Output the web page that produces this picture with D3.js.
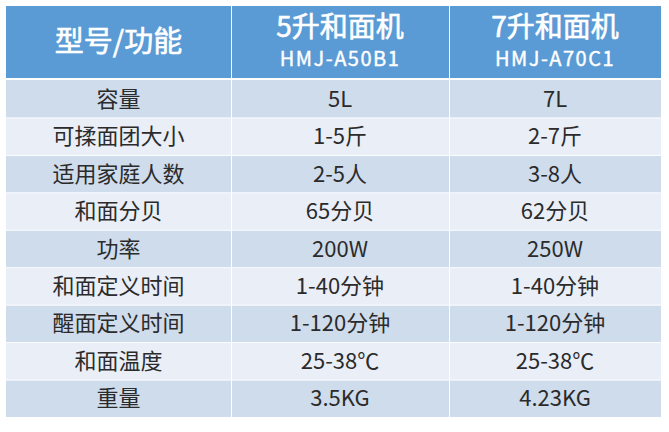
<!DOCTYPE html>
<html>
<head>
<meta charset="utf-8">
<script src="https://cdnjs.cloudflare.com/ajax/libs/d3/7.8.5/d3.min.js"></script>
<style>
  html, body { margin: 0; padding: 0; background: #fff; }
  svg { display: block; }
  text { font-family: "Noto Sans CJK SC", "Noto Sans", sans-serif; }
  .head { fill: #fff; stroke: #fff; stroke-width: 0.6px; }
</style>
</head>
<body>
<svg id="chart" width="669" height="432"></svg>
<script>
// header
var headTitle = "型号/功能";
var models = ["5升和面机", "7升和面机"];
var modelCodes = ["HMJ-A50B1", "HMJ-A70C1"];

// rows
var features = ["容量", "可揉面团大小", "适用家庭人数", "和面分贝", "功率",
                "和面定义时间", "醒面定义时间", "和面温度", "重量"];
var values5 = ["5L", "1-5斤", "2-5人", "65分贝", "200W",
               "1-40分钟", "1-120分钟", "25-38℃", "3.5KG"];
var values7 = ["7L", "2-7斤", "3-8人", "62分贝", "250W",
               "1-40分钟", "1-120分钟", "25-38℃", "4.23KG"];

var svg = d3.select("#chart");

var colEdges = [6, 231, 449, 661];
var headTop = 6, headBottom = 78, bodyTop = 80, bodyBottom = 417;

var y = d3.scaleBand()
    .domain(features)
    .range([bodyTop, bodyBottom])
    .paddingInner(0);

var columns = [features, values5, values7];

// header cells
for (var c = 0; c < 3; c++) {
    svg.append("rect")
        .attr("x", colEdges[c] + (c ? 1 : 0))
        .attr("y", headTop)
        .attr("width", colEdges[c + 1] - colEdges[c] - (c ? 1 : 0))
        .attr("height", headBottom - headTop)
        .attr("fill", "#5b9bd5");
}

var hcx = function(c) { return (colEdges[c] + colEdges[c + 1]) / 2; };

svg.append("text")
    .attr("class", "head")
    .attr("x", hcx(0)).attr("y", 52)
    .attr("text-anchor", "middle")
    .attr("font-size", 29)
    .text(headTitle);

models.forEach(function(m, i) {
    svg.append("text")
        .attr("class", "head")
        .attr("x", hcx(i + 1)).attr("y", 37)
        .attr("text-anchor", "middle")
        .attr("font-size", 28)
        .text(m);
    svg.append("text")
        .attr("class", "head")
        .attr("x", hcx(i + 1)).attr("y", 66)
        .attr("text-anchor", "middle")
        .attr("font-size", 20)
        .attr("letter-spacing", 1.5)
        .style("stroke-width", "0.4px")
        .text(modelCodes[i]);
});

// body cells
columns.forEach(function(col, c) {
    var g = svg.append("g");
    g.selectAll("rect")
        .data(features)
        .join("rect")
        .attr("x", colEdges[c] + (c ? 1 : 0))
        .attr("y", function(d, i) { return y(d) + (i ? 1 : 0); })
        .attr("width", colEdges[c + 1] - colEdges[c] - (c ? 1 : 0))
        .attr("height", function(d, i) { return y.bandwidth() - (i ? 1 : 0); })
        .attr("fill", function(d, i) { return i % 2 ? "#e9eef7" : "#cfdcec"; });
    g.selectAll("text")
        .data(col)
        .join("text")
        .attr("x", hcx(c))
        .attr("y", function(d, i) { return y(features[i]) + y.bandwidth() / 2 + 8; })
        .attr("text-anchor", "middle")
        .attr("fill", "#2b2b2b")
        .attr("font-size", 22)
        .text(function(d) { return d; });
});
</script>
</body>
</html>
